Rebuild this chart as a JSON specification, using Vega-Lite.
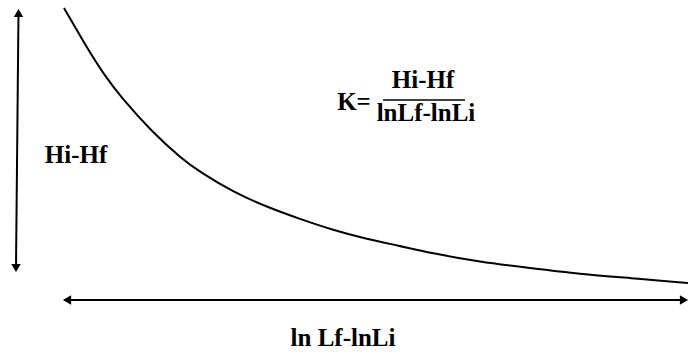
{
  "$schema": "https://vega.github.io/schema/vega-lite/v6.json",
  "width": 689,
  "height": 352,
  "autosize": {"type": "none"},
  "padding": 0,
  "background": "white",
  "config": {"view": {"stroke": null}},
  "datasets": {
    "curve": [
      {"x": 6.4, "y": 34.4}, {"x": 8.7, "y": 30.4}, {"x": 10.5, "y": 27.6},
      {"x": 12.0, "y": 25.6}, {"x": 15.2, "y": 22.0}, {"x": 18.2, "y": 19.3},
      {"x": 20.0, "y": 18.0}, {"x": 23.3, "y": 16.0}, {"x": 26.7, "y": 14.5},
      {"x": 30.0, "y": 13.3}, {"x": 33.3, "y": 12.2}, {"x": 36.7, "y": 11.3},
      {"x": 40.0, "y": 10.6}, {"x": 43.0, "y": 9.9}, {"x": 48.0, "y": 9.0},
      {"x": 53.0, "y": 8.4}, {"x": 58.0, "y": 7.8}, {"x": 63.0, "y": 7.4},
      {"x": 68.8, "y": 6.9}
    ],
    "axes": [
      {"x": 1.85, "y": 34.0, "x2": 1.6, "y2": 8.4},
      {"x": 6.6, "y": 5.2, "x2": 68.5, "y2": 5.2}
    ],
    "frac": [{"x": 38.3, "y": 25.2, "x2": 46.5, "y2": 25.2}],
    "heads": [
      {"x": 1.85, "y": 33.9, "dir": "up"},
      {"x": 1.6, "y": 8.4, "dir": "down"},
      {"x": 6.7, "y": 5.2, "dir": "left"},
      {"x": 68.4, "y": 5.2, "dir": "right"}
    ],
    "labels": [
      {"x": 7.6, "y": 18.9, "t": "Hi-Hf"},
      {"x": 35.4, "y": 24.2, "t": "K="},
      {"x": 42.3, "y": 26.4, "t": "Hi-Hf"},
      {"x": 42.6, "y": 23.1, "t": "lnLf-lnLi"},
      {"x": 34.3, "y": 0.6, "t": "ln Lf-lnLi"}
    ]
  },
  "layer": [
    {
      "data": {"name": "curve"},
      "mark": {"type": "line", "color": "black", "strokeWidth": 2, "interpolate": "basis"},
      "encoding": {
        "x": {"field": "x", "type": "quantitative", "scale": {"domain": [0, 68.9], "nice": false, "zero": false}, "axis": null},
        "y": {"field": "y", "type": "quantitative", "scale": {"domain": [0, 35.2], "nice": false, "zero": false}, "axis": null}
      }
    },
    {
      "data": {"name": "axes"},
      "mark": {"type": "rule", "color": "black", "strokeWidth": 2},
      "encoding": {
        "x": {"field": "x", "type": "quantitative"},
        "y": {"field": "y", "type": "quantitative"},
        "x2": {"field": "x2"},
        "y2": {"field": "y2"}
      }
    },
    {
      "data": {"name": "frac"},
      "mark": {"type": "rule", "color": "black", "strokeWidth": 1.5},
      "encoding": {
        "x": {"field": "x", "type": "quantitative"},
        "y": {"field": "y", "type": "quantitative"},
        "x2": {"field": "x2"},
        "y2": {"field": "y2"}
      }
    },
    {
      "data": {"name": "heads"},
      "mark": {"type": "point", "filled": true, "color": "black", "opacity": 1, "size": 90},
      "encoding": {
        "x": {"field": "x", "type": "quantitative"},
        "y": {"field": "y", "type": "quantitative"},
        "shape": {
          "field": "dir", "type": "nominal", "legend": null,
          "scale": {"domain": ["up", "down", "left", "right"], "range": ["triangle-up", "triangle-down", "triangle-left", "triangle-right"]}
        }
      }
    },
    {
      "data": {"name": "labels"},
      "mark": {"type": "text", "font": "Liberation Serif", "fontWeight": "bold", "fontSize": 25, "color": "black", "align": "center", "baseline": "alphabetic"},
      "encoding": {
        "x": {"field": "x", "type": "quantitative"},
        "y": {"field": "y", "type": "quantitative"},
        "text": {"field": "t"}
      }
    }
  ]
}
